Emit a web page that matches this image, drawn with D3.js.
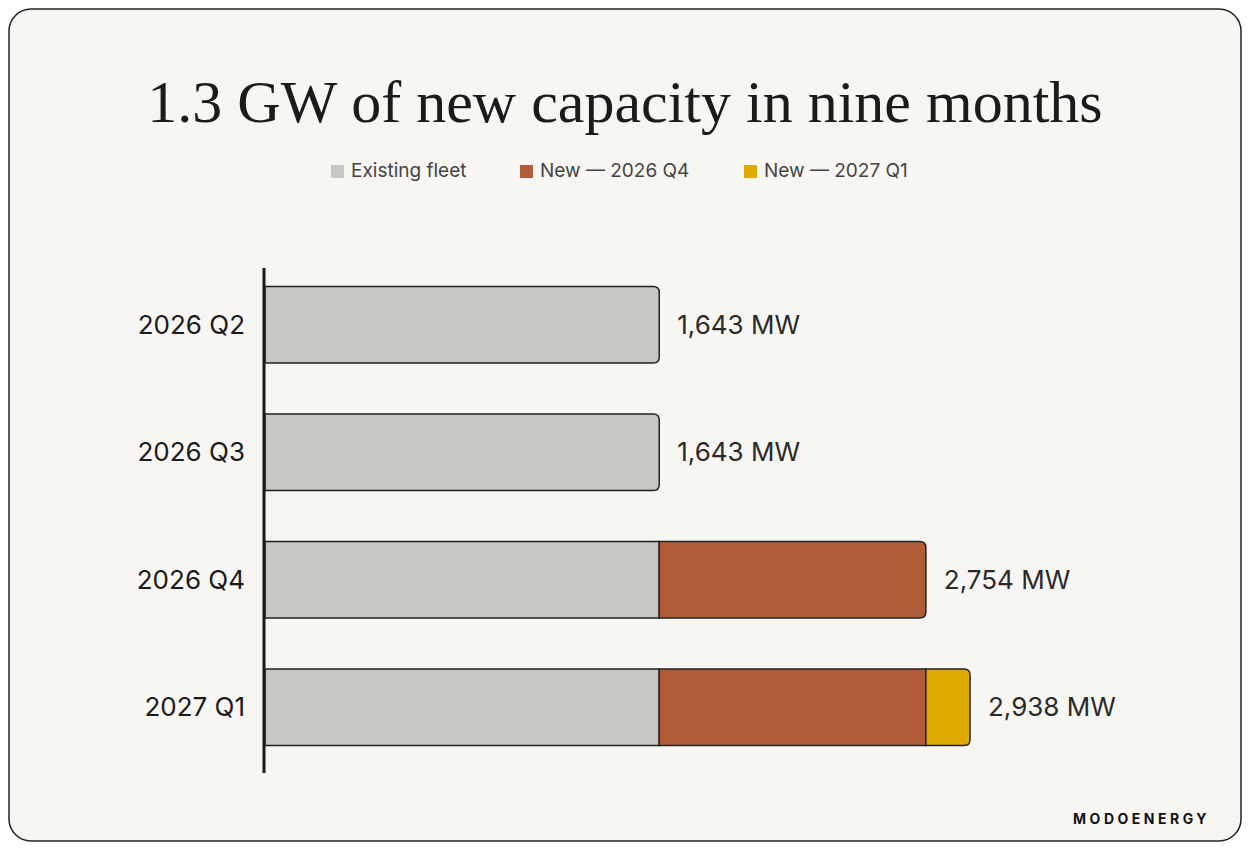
<!DOCTYPE html>
<html><head><meta charset="utf-8">
<script src="https://cdn.jsdelivr.net/npm/d3@7"></script>
<style>body{margin:0;background:#fff}</style>
</head><body>
<svg width="1250" height="850"></svg>
<script>
// chart data
var quarters = ['2026 Q2', '2026 Q3', '2026 Q4', '2027 Q1'];
var seriesNames = ['Existing fleet', 'New — 2026 Q4', 'New — 2027 Q1'];
var seriesColors = ['#c8c6c1', '#b05d37', '#e0aa00'];
var existing = [1643, 1643, 1643, 1643];
var new2026Q4 = [0, 0, 1111, 1111];
var new2027Q1 = [0, 0, 0, 184];
var totalLabels = ['1,643 MW', '1,643 MW', '2,754 MW', '2,938 MW'];

var svg = d3.select('svg');
var sans = 'Inter, "Noto Sans", sans-serif';

svg.append('rect').attr('x', 9).attr('y', 9).attr('width', 1232).attr('height', 832)
    .attr('rx', 22).attr('fill', '#f7f6f2').attr('stroke', '#222').attr('stroke-width', 1.5);

svg.append('text').attr('x', 625).attr('y', 122).attr('text-anchor', 'middle')
    .attr('font-family', '"Liberation Serif", "DejaVu Serif", serif').attr('font-size', 60)
    .attr('fill', '#1b1b1b').text('1.3 GW of new capacity in nine months');

// legend
var legendX = [331, 520, 744];
seriesNames.forEach(function(n, i) {
    svg.append('rect').attr('x', legendX[i]).attr('y', 165).attr('width', 13).attr('height', 13)
        .attr('fill', seriesColors[i]);
    svg.append('text').attr('x', legendX[i] + 20).attr('y', 177).attr('font-family', sans)
        .attr('font-size', 19).attr('fill', '#444').text(n);
});

var x = d3.scaleLinear().domain([0, 2938]).range([265, 970]);
var y = d3.scaleBand().domain(quarters).range([261, 771]).paddingInner(0.4).paddingOuter(0.2);

var rows = quarters.map(function(q, i) {
    return {q: q, vals: [existing[i], new2026Q4[i], new2027Q1[i]], label: totalLabels[i]};
});

rows.forEach(function(r) {
    var y0 = y(r.q), h = y.bandwidth();
    var total = d3.sum(r.vals);
    var cum = 0;
    var segs = [];
    r.vals.forEach(function(v, j) { if (v > 0) { segs.push({a: cum, b: cum + v, j: j}); } cum += v; });
    segs.forEach(function(s, k) {
        var x0 = x(s.a), x1 = x(s.b), rad = 6;
        var p;
        if (k === segs.length - 1) {
            p = 'M' + x0 + ',' + y0 + 'H' + (x1 - rad) + 'Q' + x1 + ',' + y0 + ' ' + x1 + ',' + (y0 + rad) +
                'V' + (y0 + h - rad) + 'Q' + x1 + ',' + (y0 + h) + ' ' + (x1 - rad) + ',' + (y0 + h) + 'H' + x0 + 'Z';
        } else {
            p = 'M' + x0 + ',' + y0 + 'H' + x1 + 'V' + (y0 + h) + 'H' + x0 + 'Z';
        }
        svg.append('path').attr('d', p).attr('fill', seriesColors[s.j])
            .attr('stroke', '#222').attr('stroke-width', 1.5);
    });
    svg.append('text').attr('x', x(total) + 18).attr('y', y0 + h / 2).attr('dy', '0.35em')
        .attr('font-family', sans).attr('font-size', 26).attr('fill', '#2a2a2a').text(r.label);
    svg.append('text').attr('x', 245).attr('y', y0 + h / 2).attr('dy', '0.35em').attr('text-anchor', 'end')
        .attr('font-family', sans).attr('font-size', 26).attr('fill', '#1b1b1b').text(r.q);
});

svg.append('line').attr('x1', 264).attr('x2', 264).attr('y1', 268).attr('y2', 773)
    .attr('stroke', '#1b1b1b').attr('stroke-width', 3);

svg.append('text').attr('x', 1210).attr('y', 824).attr('text-anchor', 'end')
    .attr('font-family', sans).attr('font-weight', 700).attr('font-size', 14)
    .attr('letter-spacing', 3.5).attr('fill', '#111').text('MODOENERGY');
</script>
</body></html>
